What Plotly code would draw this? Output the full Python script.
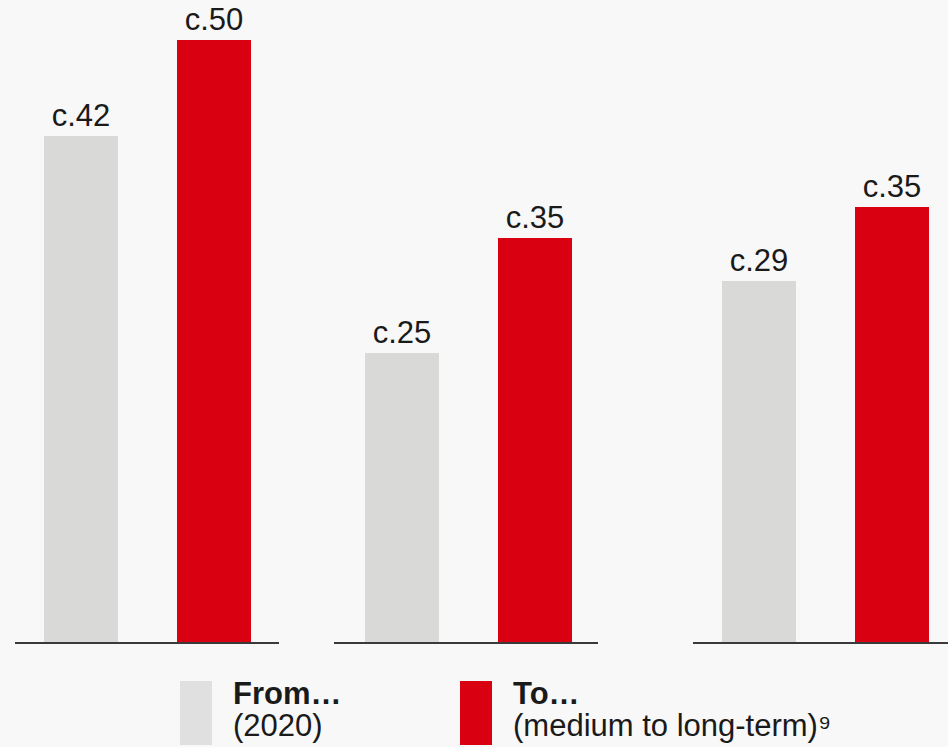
import plotly.graph_objects as go
from plotly.subplots import make_subplots

# Data
categories = ["From…", "To…"]
from_values = [42, 25, 29]
to_values = [50, 35, 35]
label_prefix = "c."

# Styling
BG = "#f8f8f8"
GREY = "#d9d9d7"
GREY_KEY = "#e0e0e0"
RED = "#d90012"
TEXT = "#1a1a1a"
FONT = "Liberation Sans, Arial, sans-serif"

W, H = 948, 747
BASE_PX = 642  # baseline position from top

# Panel horizontal extents in pixels and per-panel vertical scale
panel_px = [(15, 279), (334, 598), (693, 948)]
panel_xrange = [(-0.496, 1.489), (-0.511, 1.474), (-0.496, 1.421)]
panel_ymax = [53.3, 55.6, 51.6]

fig = make_subplots(rows=1, cols=3)

for i in range(3):
    fig.add_trace(
        go.Bar(
            x=categories,
            y=[from_values[i], to_values[i]],
            width=0.556,
            marker=dict(color=[GREY, RED], line=dict(width=0)),
            texttemplate=label_prefix + "%{y}",
            textposition="outside",
            cliponaxis=False,
            textfont=dict(family=FONT, size=31, color=TEXT),
            hoverinfo="skip",
            showlegend=False,
        ),
        row=1,
        col=i + 1,
    )

y_dom = [1 - BASE_PX / H, 1.0]
for i in range(3):
    xa = "xaxis" if i == 0 else f"xaxis{i + 1}"
    ya = "yaxis" if i == 0 else f"yaxis{i + 1}"
    x0, x1 = panel_px[i]
    fig.layout[xa].update(
        domain=[x0 / W, x1 / W],
        range=list(panel_xrange[i]),
        showticklabels=False,
        ticks="",
        showgrid=False,
        zeroline=False,
        showline=True,
        linecolor="#3a3a3a",
        linewidth=2,
    )
    fig.layout[ya].update(
        domain=y_dom,
        range=[0, panel_ymax[i]],
        visible=False,
        showgrid=False,
        zeroline=False,
    )

# Legend keys: swatch, bold title, and a subtitle line
keys = [
    (180, 212, GREY_KEY, "<b>From…</b>", "(2020)"),
    (460, 492, RED, "<b>To…</b>", "(medium to long-term)⁹"),
]
for kx0, kx1, col, title, sub in keys:
    fig.add_shape(
        type="rect",
        xref="paper",
        yref="paper",
        x0=kx0 / W,
        x1=kx1 / W,
        y0=1 - 745 / H,
        y1=1 - 681 / H,
        fillcolor=col,
        line=dict(width=0),
    )
    for txt, top_px in ((title, 674), (sub, 706)):
        fig.add_annotation(
            xref="paper",
            yref="paper",
            x=(kx1 + 19) / W,
            y=1 - top_px / H,
            xanchor="left",
            yanchor="top",
            align="left",
            showarrow=False,
            text=txt,
            font=dict(family=FONT, size=31, color=TEXT),
        )

fig.update_layout(
    width=W,
    height=H,
    margin=dict(l=0, r=0, t=0, b=0),
    paper_bgcolor=BG,
    plot_bgcolor=BG,
    bargap=0,
)

fig.write_html("out.html")
